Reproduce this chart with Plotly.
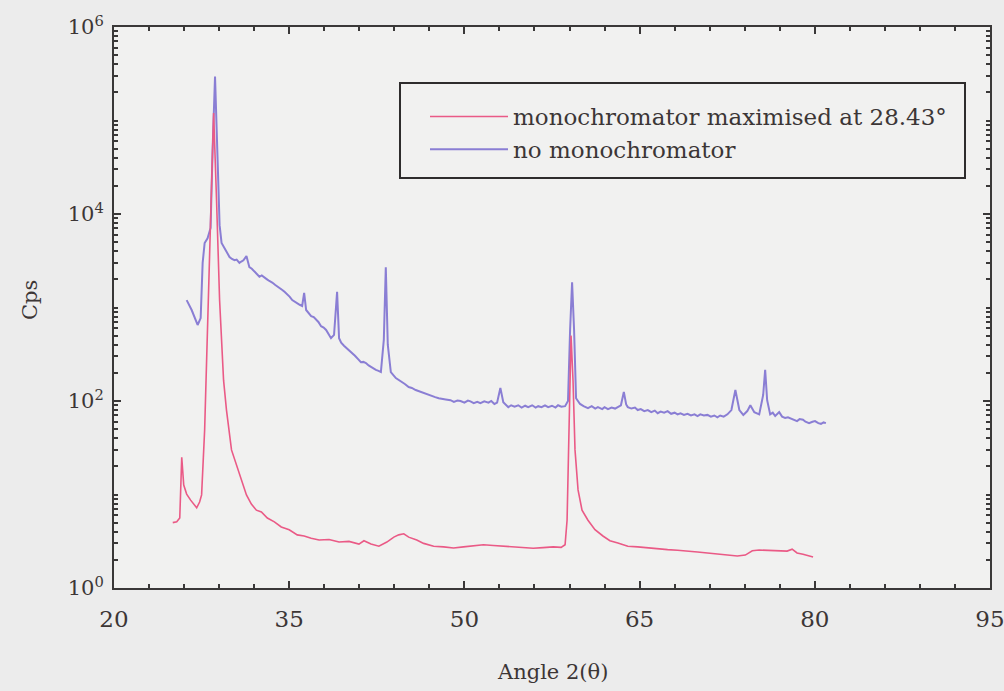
import plotly.graph_objects as go

# ---- data ----
blue_angle = [26.22, 26.65, 27.16, 27.42, 27.59, 27.76, 28.01, 28.27, 28.44, 28.65, 28.87, 29.04,
              29.21, 29.55, 29.89, 30.1, 30.32, 30.5, 30.74, 30.9, 31.08, 31.34, 31.59, 31.8, 32.02,
              32.2, 32.45, 32.65, 32.87, 33.1, 33.30, 33.55, 33.81, 34.1, 34.41, 34.6, 34.83, 35.05,
              35.26, 35.5, 35.69, 35.9, 36.11, 36.28, 36.45, 36.65, 36.88, 37.1, 37.31, 37.5, 37.73,
              37.95, 38.16, 38.4, 38.58, 38.84, 39.10, 39.27, 39.45, 39.69, 39.9, 40.12, 40.4, 40.63,
              40.9, 41.14, 41.35, 41.57, 41.8, 42.00, 42.2, 42.42, 42.65, 42.85, 43.10, 43.27, 43.44,
              43.70,
              44.13, 44.4, 44.64, 44.9, 45.23, 45.5, 45.83, 46.1, 46.51, 46.8, 47.19, 47.5, 47.8, 48.05,
              48.4, 48.81, 49.1, 49.4, 49.67, 50.0, 50.3, 50.52, 50.8, 51.1, 51.37, 51.7, 52.06, 52.3,
              52.57, 52.8, 53.08, 53.33, 53.5, 53.76, 54.0, 54.3, 54.61, 54.9, 55.2, 55.46, 55.8, 56.1,
              56.32, 56.6, 56.9, 57.17, 57.5, 57.8, 58.02, 58.3, 58.62, 58.87, 59.05, 59.22, 59.39,
              59.56, 59.9, 60.2, 60.58, 60.9, 61.2, 61.43, 61.8, 62.0, 62.29, 62.6, 62.9, 63.14, 63.4,
              63.65, 63.85, 63.99, 64.3, 64.6, 64.84, 65.1, 65.4, 65.70, 66.0, 66.3, 66.55, 66.8, 67.1,
              67.40, 67.7, 68.0, 68.25, 68.5, 68.8, 69.10, 69.4, 69.7, 69.96, 70.2, 70.5, 70.81, 71.1,
              71.4, 71.66, 71.9, 72.2, 72.52, 72.86, 73.20, 73.54, 73.88, 74.22, 74.48, 74.82, 75.24,
              75.58, 75.75, 75.92, 76.18, 76.4, 76.61, 76.95, 77.2, 77.46, 77.7, 78.06, 78.3, 78.48,
              78.7, 78.99, 79.2, 79.51, 79.8, 80.02, 80.3, 80.53, 80.75, 80.95]
blue_cps = [1200, 940, 650, 770, 3000, 4900, 5500, 7100, 48000, 295000, 38000, 7600,
            4900, 4100, 3470, 3300, 3200, 3250, 3000, 3100, 3200, 3550, 2700, 2600, 2450,
            2300, 2130, 2200, 2080, 2000, 1920, 1850, 1740, 1650, 1540, 1470, 1390, 1300,
            1200, 1150, 1090, 1070, 1040, 1430, 940, 880, 810, 790, 740, 700, 630,
            610, 575, 520, 470, 510, 1470, 470, 420, 390, 370, 350, 330, 305,
            280, 260, 262, 255, 240, 230, 222, 215, 210, 204, 450, 2700, 400,
            204,
            176, 168, 160, 152, 141, 138, 131, 127, 122, 118, 113, 110, 107, 105,
            104, 102, 98, 101, 100, 96, 101, 99, 95, 98, 95, 99, 96, 100,
            93, 96, 138, 97, 92, 86, 90, 87, 90, 85, 89, 86, 90, 85,
            88, 86, 90, 86, 89, 85, 90, 87, 88, 100, 575, 1860, 575,
            107, 93, 88, 84, 88, 83, 86, 82, 86, 82, 85, 83, 86, 90,
            125, 92, 86, 83, 85, 80, 82, 78, 80, 76, 79, 74, 77, 75,
            78, 73, 75, 72, 74, 71, 73, 70, 72, 69, 72, 70, 71, 68,
            70, 67, 70, 68, 72, 80, 131, 80, 71, 78, 90, 76, 72,
            116, 215, 102, 72, 75, 69, 76, 68, 66, 67, 64, 63, 61,
            64, 63, 60, 58, 60, 61, 58, 57, 59, 58]

red_angle = [25.03, 25.37, 25.63, 25.80, 25.97, 26.22, 26.56, 26.91, 27.08, 27.33, 27.50, 27.76, 28.01,
             28.27, 28.53, 28.78, 29.04, 29.38, 29.63, 30.06, 30.49, 30.91, 31.34, 31.76, 32.19, 32.62,
             33.13, 33.73, 34.32, 35.00, 35.69, 36.28, 36.88, 37.56, 38.41, 39.27, 40.12, 40.97, 41.40,
             42.00, 42.68, 43.36, 43.96, 44.38, 44.81, 45.23, 45.92, 46.51, 47.37, 48.22, 49.07, 49.92,
             50.78, 51.63, 52.48, 53.33, 54.19, 55.04, 55.89, 56.74, 57.60, 58.28, 58.62, 58.79, 58.96,
             59.13, 59.30, 59.47, 59.73, 60.07, 60.58, 61.18, 61.86, 62.46, 63.14, 63.99, 64.84, 65.70,
             66.55, 67.40, 68.25, 69.10, 69.96, 70.81, 71.66, 72.52, 73.37, 74.05, 74.65, 75.24, 75.92,
             76.78, 77.63, 78.06, 78.48, 78.99, 79.51, 79.85]
red_cps = [5.0, 5.1, 5.6, 25, 12.6, 10.1, 8.7, 7.5, 7.2, 8.3, 9.9, 49, 575,
           8700, 120000, 14000, 1200, 167, 80, 30, 20.7, 13.6, 9.9, 7.9, 6.8, 6.5,
           5.6, 5.1, 4.5, 4.2, 3.7, 3.6, 3.4, 3.26, 3.3, 3.1, 3.15, 2.95, 3.2,
           2.95, 2.8, 3.1, 3.5, 3.7, 3.8, 3.5, 3.26, 3.0, 2.8, 2.75, 2.68, 2.75,
           2.8, 2.9, 2.85, 2.8, 2.75, 2.7, 2.66, 2.7, 2.75, 2.72, 2.9, 5.3, 63,
           500, 167, 30, 11.2, 6.8, 5.3, 4.2, 3.6, 3.2, 3.03, 2.8, 2.75, 2.68,
           2.6, 2.57, 2.53, 2.5, 2.43, 2.37, 2.3, 2.25, 2.2, 2.25, 2.5, 2.55, 2.53,
           2.5, 2.48, 2.6, 2.37, 2.3, 2.2, 2.15]

x_major = [20, 35, 50, 65, 80, 95]
y_major = [1, 100, 10000, 1000000]
y_major_text = ["10<sup>0</sup>", "10<sup>2</sup>", "10<sup>4</sup>", "10<sup>6</sup>"]

red_name = "monochromator maximised at 28.43°"
blue_name = "no monochromator"

FONT = "DejaVu Serif"
TXT = "#3c3636"
AX = "#3a3838"

y_minor = []
for d in range(0, 6):
    for k in range(2, 10):
        y_minor.append(k * 10 ** d)
    if d % 2 == 1:
        y_minor.append(10 ** d)

fig = go.Figure()
fig.add_trace(go.Scatter(x=blue_angle, y=blue_cps, mode="lines", name=blue_name,
                         line=dict(color="#8a7ed4", width=2.0), legendrank=2, legendgroup="b"))
fig.add_trace(go.Scatter(x=red_angle, y=red_cps, mode="lines", name=red_name,
                         line=dict(color="#ea5a86", width=1.6), legendrank=1, legendgroup="a"))

fig.update_layout(
    width=1004, height=691, autosize=False,
    margin=dict(l=114, r=14, t=27, b=103),
    paper_bgcolor="#ececec",
    plot_bgcolor="#f1f1f0",
    font=dict(family=FONT, color=TXT),
    showlegend=True,
    legend=dict(x=(425 - 114) / 876, y=(588 - 95) / 561, xanchor="left", yanchor="top",
                bgcolor="rgba(0,0,0,0)", borderwidth=0,
                font=dict(family=FONT, size=23, color=TXT),
                itemwidth=78, tracegroupgap=0, traceorder="grouped"),
)

fig.update_xaxes(
    range=[20, 95], tickmode="array", tickvals=x_major,
    ticks="inside", ticklen=7, tickwidth=1.5, tickcolor=AX,
    showline=True, linecolor=AX, linewidth=2, mirror="ticks",
    showgrid=False, zeroline=False, automargin=False,
    tickfont=dict(family=FONT, size=23, color=TXT),
    ticklabelstandoff=9, ticklabeloverflow="allow",
    minor=dict(dtick=3, tick0=20, ticks="inside", ticklen=4, tickwidth=1.5, tickcolor=AX, showgrid=False),
)
fig.update_yaxes(
    type="log", range=[0, 6], tickmode="array", tickvals=y_major, ticktext=y_major_text,
    ticks="inside", ticklen=7, tickwidth=1.5, tickcolor=AX,
    showline=True, linecolor=AX, linewidth=2, mirror="ticks",
    showgrid=False, zeroline=False, automargin=False,
    tickfont=dict(family=FONT, size=21, color=TXT),
    ticklabelstandoff=4, ticklabeloverflow="allow",
    minor=dict(tickmode="array", tickvals=y_minor, ticks="inside", ticklen=4, tickwidth=1.5,
               tickcolor=AX, showgrid=False),
)

# legend frame
fig.add_shape(type="rect", xref="paper", yref="paper",
              x0=(400 - 114) / 876, x1=(965 - 114) / 876,
              y0=(588 - 178) / 561, y1=(588 - 83) / 561,
              line=dict(color="#2e2c2c", width=2), fillcolor="rgba(0,0,0,0)")

fig.add_annotation(text="Angle 2(θ)", xref="paper", yref="paper",
                   x=(552 - 114) / 876, y=(588 - 672) / 561, showarrow=False,
                   font=dict(family=FONT, size=21, color=TXT), xanchor="center", yanchor="middle")
fig.add_annotation(text="Cps", xref="paper", yref="paper",
                   x=(30 - 114) / 876, y=(588 - 300) / 561, showarrow=False, textangle=-90,
                   font=dict(family=FONT, size=21, color=TXT), xanchor="center", yanchor="middle")

fig.write_html(
    "out.html",
    config={"displayModeBar": False, "responsive": False},
    post_script="document.body.style.margin='0';document.body.style.overflow='hidden';"
                "document.body.style.background='#ececec';",
)
